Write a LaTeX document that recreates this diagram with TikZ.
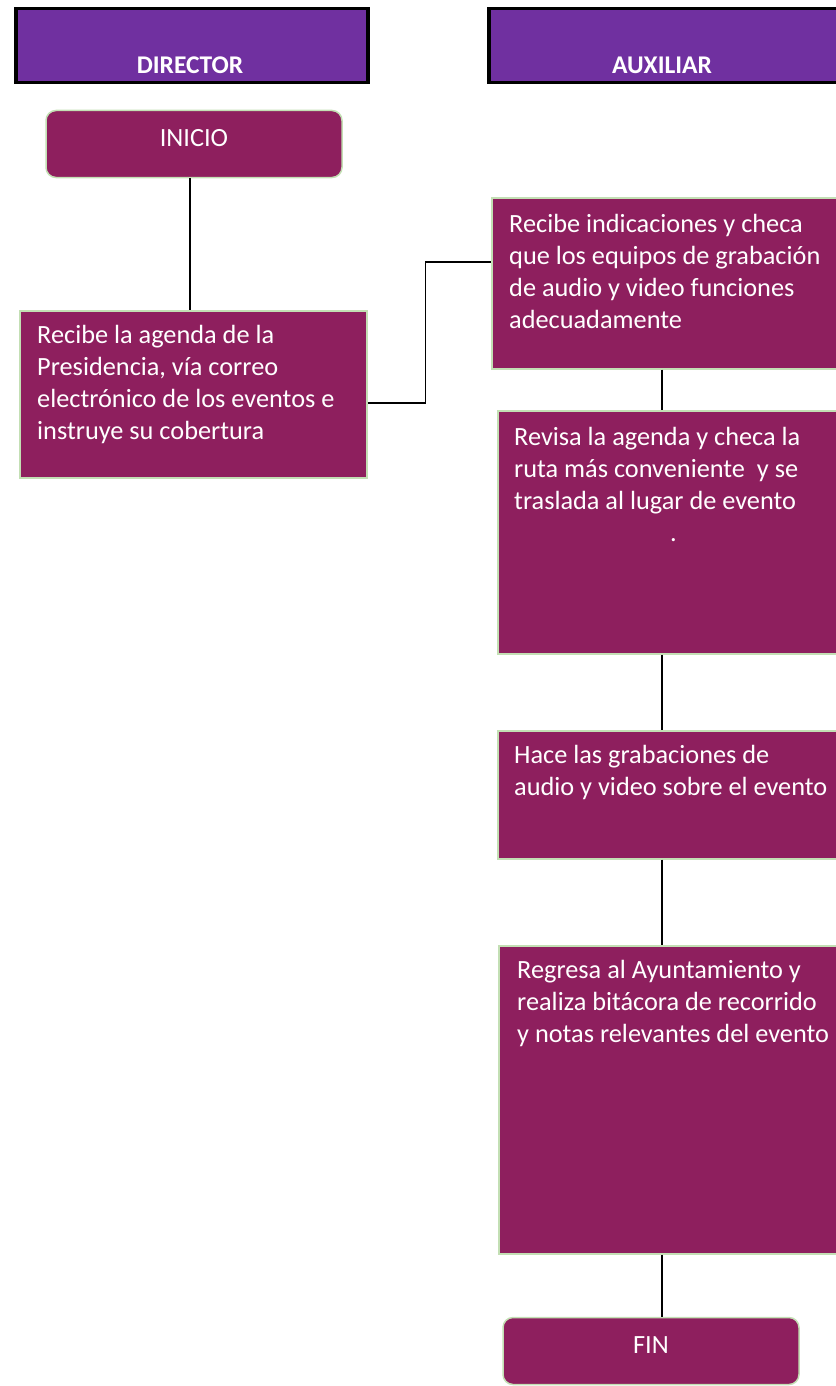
\documentclass[tikz,border=0pt]{standalone}
\usepackage{fontspec}
\setmainfont{Carlito}
\usetikzlibrary{positioning}
\definecolor{lanepurple}{HTML}{7030A0}
\definecolor{stepwine}{HTML}{8E1F5E}
\definecolor{stepedge}{HTML}{C3DFB4}

\begin{document}
\begin{tikzpicture}[
    x=1pt, y=-1pt,
    lane/.style={rectangle, draw=black, line width=3.5pt, fill=lanepurple, anchor=north west, minimum height=74pt, inner sep=0pt},
    lanetitle/.style={text=white, font=\fontsize{25.5}{30}\selectfont\bfseries, inner sep=0pt},
    stepbox/.style={rectangle, draw=stepedge, line width=1.5pt, fill=stepwine, anchor=north west, inner sep=0pt},
    steptext/.style={anchor=north west, inner sep=0pt, align=left, text=white, font=\fontsize{26.3}{32}\selectfont},
    term/.style={rectangle, rounded corners=10pt, draw=stepedge, line width=1.5pt, fill=stepwine, text=white, minimum width=296pt, minimum height=67pt, text depth=12pt, font=\fontsize{26.3}{30}\selectfont},
    link/.style={draw=black, line width=1.8pt}
]
    \useasboundingbox (0,0) rectangle (835,1386);

    % carriles
    \node (dirlane) [lane, minimum width=352pt] at (14,7) {};
    \node (auxlane) [lane, minimum width=400pt] at (487,7) {};
    \node (dirtitle) [lanetitle] at (190,65) {DIRECTOR};
    \node (auxtitle) [lanetitle] at (662,65) {AUXILIAR};

    % director
    \node (start) [term] at (194,144) {INICIO};
    \node (dirbox) [stepbox, minimum width=347pt, minimum height=167pt] at (19,310) {};
    \node (dirtext) [steptext, below right=15pt and 18pt of dirbox.north west] {Recibe la agenda de la\\Presidencia, vía correo\\electrónico de los eventos e\\instruye su cobertura};

    % auxiliar
    \coordinate (col) at (662,0);
    \node (aux1) [stepbox, minimum width=354pt, minimum height=171pt] at (491,197) {};
    \node (aux1text) [steptext, below right=17pt and 18pt of aux1.north west] {Recibe indicaciones y checa\\que los equipos de grabación\\de audio y video funciones\\adecuadamente};
    \node (aux2) [stepbox, minimum width=348pt, minimum height=243pt] at (497,410) {};
    \node (aux2text) [steptext, below right=17pt and 17pt of aux2.north west] {Revisa la agenda y checa la\\ruta más conveniente \ y se\\traslada al lugar de evento\\\hspace*{156pt}.};
    \node (aux3) [stepbox, minimum width=348pt, minimum height=128pt] at (497,730) {};
    \node (aux3text) [steptext, below right=15pt and 17pt of aux3.north west] {Hace las grabaciones de\\audio y video sobre el evento};
    \node (aux4) [stepbox, minimum width=347pt, minimum height=308pt] at (498,945) {};
    \node (aux4text) [steptext, below right=15pt and 19pt of aux4.north west] {Regresa al Ayuntamiento y\\realiza bitácora de recorrido\\y notas relevantes del evento};
    \node (finish) [term] at (651,1351) {FIN};

    % conectores
    \draw [link] ([xshift=-4pt]start.south) -- ([xshift=-4pt]start.south |- dirbox.north);
    \draw [link] ([yshift=-9pt]dirbox.east) -- ++(58,0) |- ([yshift=21pt]aux1.west);
    \draw [link] (aux1.south -| col) -- (aux2.north -| col);
    \draw [link] (aux2.south -| col) -- (aux3.north -| col);
    \draw [link] (aux3.south -| col) -- (aux4.north -| col);
    \draw [link] (aux4.south -| col) -- (finish.north -| col);
\end{tikzpicture}
\end{document}
